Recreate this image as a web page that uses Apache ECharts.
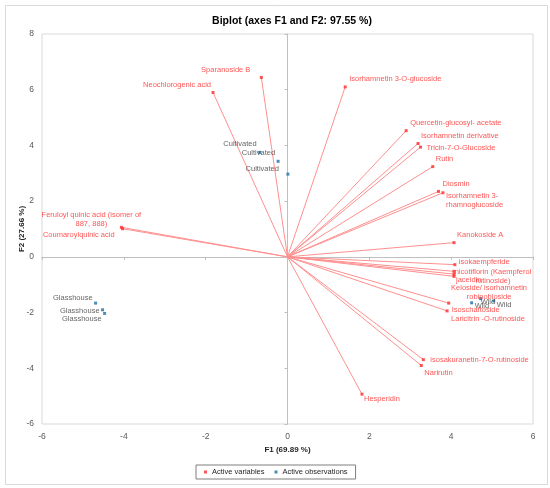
<!DOCTYPE html>
<html>
<head>
<meta charset="utf-8">
<script src="https://cdn.jsdelivr.net/npm/echarts@6/dist/echarts.min.js"></script>
<style>
html, body { margin: 0; padding: 0; background: #fff; }
#chart_biplot { width: 550px; height: 488px; }
</style>
</head>
<body>
<div id="chart_biplot"></div>
<script>
/* variables (cargas) */
const varNames = [
    'Sparanoside B',
    'Neochlorogenic acid',
    'Isorhamnetin 3-O-glucoside',
    'Quercetin-glucosyl- acetate',
    'Isorhamnetin derivative',
    'Tricin-7-O-Glucoside',
    'Rutin',
    'Diosmin',
    'Isorhamnetin 3-\nrhamnoglucoside',
    'Feruloyl quinic acid (isomer of\n887, 888)',
    'Coumaroylquinic acid',
    'Kanokoside A',
    'isokaempferide',
    'nicotiflorin (Kaempferol\nrutinoside)',
    'jaceidin',
    'Keioside/ isorhamnetin\nrobinobioside',
    'Isoschaftoside',
    'Laricitrin -O-rutinoside',
    'isosakuranetin-7-O-rutinoside',
    'Narirutin',
    'Hesperidin'
];
const varF1 = [-0.64, -1.82, 1.41, 2.90, 3.19, 3.25, 3.55, 3.69, 3.80, -4.06, -4.03, 4.07, 4.09, 4.07, 4.07, 4.07, 3.94, 3.90, 3.32, 3.27, 1.82];
const varF2 = [6.44, 5.90, 6.10, 4.53, 4.07, 3.94, 3.24, 2.35, 2.30, 1.06, 1.01, 0.51, -0.28, -0.52, -0.62, -0.70, -1.66, -1.94, -3.69, -3.90, -4.93];

/* observaciones */
const obsNames = ['Cultivated', 'Cultivated', 'Cultivated', 'Glasshouse', 'Glasshouse', 'Glasshouse', 'Wild', 'Wild', 'Wild'];
const obsF1 = [-0.68, -0.23, 0.01, -4.69, -4.52, -4.47, 4.50, 4.72, 5.04];
const obsF2 = [3.75, 3.43, 2.97, -1.66, -1.90, -2.03, -1.65, -1.50, -1.58];

const xTicks = { min: -6, max: 6, interval: 2 };
const yTicks = { min: -6, max: 8, interval: 2 };

/* donde va cada etiqueta: [alineacion, dx, dy] */
const varLabelPos = [
    ['right', -11, -8], ['right', -2, -8], ['left', 4, -8], ['left', 4, -8],
    ['left', 3, -8], ['left', 6, 1], ['left', 3, -8], ['left', 4, -7],
    ['left', 3, 8], ['center', -30, -8], ['right', -8, 6], ['left', 3, -8],
    ['left', 4, -3], ['center', 39, 5], ['left', 2, 6], ['center', 35, 16.5],
    ['left', 3, 7], ['left', 4, 8], ['left', 7, 0], ['left', 3, 7], ['left', 2, 5]
];
const obsLabelPos = [
    ['right', -3, -8], ['right', -3, -8], ['right', -9, -5],
    ['right', -3, -5], ['right', -3, 1], ['right', -3, 6],
    ['left', 3, 3], ['left', 0, 3], ['left', 3, 4]
];

function labelFor(pos, color) {
    const [align, dx, dy] = pos;
    const r = 1.5;
    if (align === 'left') return { position: 'right', distance: 0, offset: [dx - r, dy], color };
    if (align === 'right') return { position: 'left', distance: 0, offset: [dx + r, dy], color };
    return { position: 'inside', offset: [dx, dy], color, align: 'center' };
}

window.renderBiplot = function () {
    const el = document.getElementById('chart_biplot');
    if (!el) return;
    const chart = echarts.init(el);

    const font = 'Liberation Sans, Arial, sans-serif';
    const red = '#ff2b2b';
    const blue = '#1f6fa8';
    const gridGray = '#d9d9d9';
    const zeroGray = '#bfbfbf';

    const varData = varNames.map((name, i) => ({
        name,
        value: [varF1[i], varF2[i]],
        label: labelFor(varLabelPos[i], red)
    }));
    const obsData = obsNames.map((name, i) => ({
        name,
        value: [obsF1[i], obsF2[i]],
        label: labelFor(obsLabelPos[i], '#404040')
    }));

    const option = {
        animation: false,
        textStyle: { fontFamily: font },
        title: {
            text: 'Biplot (axes F1 and F2: 97.55 %)',
            left: 287, top: 11, textAlign: 'center',
            textStyle: { fontSize: 10.5, fontWeight: 'bold', color: '#000', fontFamily: font }
        },
        graphic: [{
            type: 'rect', silent: true, z: -10,
            shape: { x: 5.5, y: 5.5, width: 542, height: 479 },
            style: { fill: 'none', stroke: gridGray, lineWidth: 1 }
        }],
        legend: {
            data: ['Active variables', 'Active observations'],
            left: 196, top: 465,
            icon: 'rect', itemWidth: 3, itemHeight: 3, itemGap: 10,
            borderColor: '#7f7f7f', borderWidth: 1, padding: [3, 8],
            textStyle: { fontSize: 7.5, color: '#262626', fontFamily: font }
        },
        grid: { left: 42, right: 17, top: 34, bottom: 64, show: true, borderColor: gridGray, borderWidth: 1 },
        xAxis: [{
            type: 'value', ...xTicks, position: 'bottom',
            axisLine: { show: false, onZero: false },
            axisTick: { show: false },
            splitLine: { show: false },
            axisLabel: { color: '#595959', fontSize: 8.5, margin: 8 },
            name: 'F1 (69.89 %)', nameLocation: 'middle', nameGap: 20,
            nameTextStyle: { fontWeight: 'bold', fontSize: 8, color: '#262626' }
        }, {
            type: 'value', ...xTicks, position: 'top',
            axisLine: { show: true, onZero: true, lineStyle: { color: zeroGray } },
            axisTick: { show: true, inside: true, length: 3, lineStyle: { color: zeroGray } },
            axisLabel: { show: false },
            splitLine: { show: false }
        }],
        yAxis: [{
            type: 'value', ...yTicks, position: 'left',
            axisLine: { show: false, onZero: false },
            axisTick: { show: false },
            splitLine: { show: false },
            axisLabel: { color: '#595959', fontSize: 8.5, margin: 8 },
            name: 'F2 (27.66 %)', nameLocation: 'middle', nameGap: 16, nameMoveOverlap: false,
            nameTextStyle: { fontWeight: 'bold', fontSize: 8, color: '#262626' }
        }, {
            type: 'value', ...yTicks, position: 'right',
            axisLine: { show: true, onZero: true, lineStyle: { color: zeroGray } },
            axisTick: { show: true, inside: true, length: 3, lineStyle: { color: zeroGray } },
            axisLabel: { show: false },
            splitLine: { show: false }
        }],
        series: [{
            name: 'loadings',
            type: 'custom',
            silent: true,
            z: 1,
            data: varData.map(d => d.value),
            renderItem: function (params, api) {
                const o = api.coord([0, 0]);
                const p = api.coord([api.value(0), api.value(1)]);
                return {
                    type: 'line',
                    shape: { x1: o[0], y1: o[1], x2: p[0], y2: p[1] },
                    style: { stroke: '#ff8f8f', lineWidth: 1 }
                };
            }
        }, {
            name: 'Active variables',
            type: 'scatter',
            z: 3,
            symbol: 'rect',
            symbolSize: 3,
            itemStyle: { color: red },
            label: { show: true, fontSize: 7.5, formatter: '{b}', lineHeight: 9 },
            data: varData
        }, {
            name: 'Active observations',
            type: 'scatter',
            z: 3,
            symbol: 'rect',
            symbolSize: 3,
            itemStyle: { color: blue },
            label: { show: true, fontSize: 7.5, formatter: '{b}' },
            data: obsData
        }]
    };

    chart.setOption(option);
    chart.resize();
};

window.renderBiplot();
</script>
</body>
</html>
